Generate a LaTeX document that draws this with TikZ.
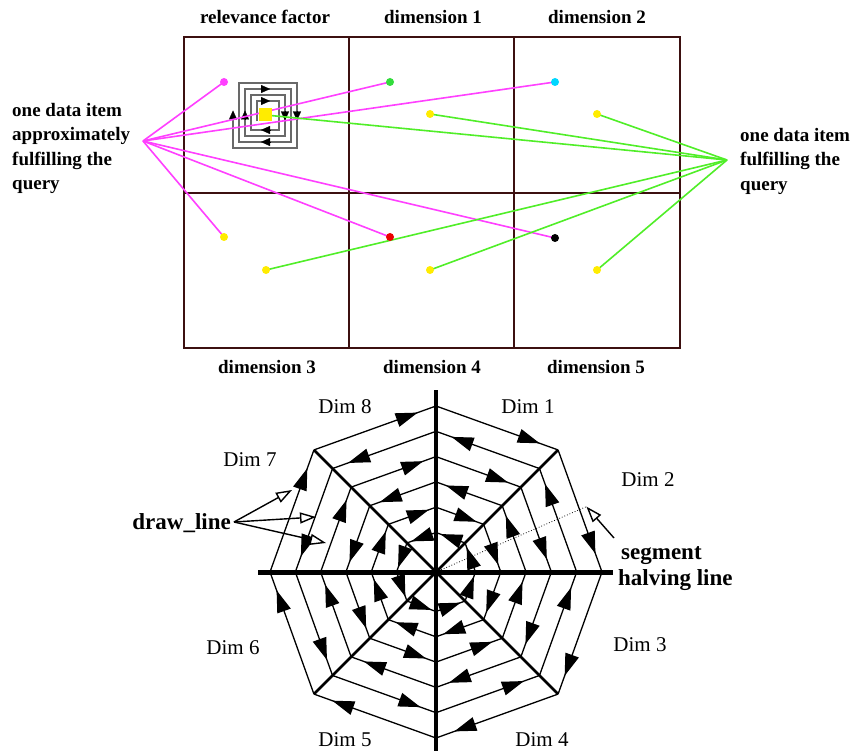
\documentclass[tikz,border=0pt]{standalone}
\usepackage{fontspec}
\setmainfont{Liberation Serif}
\usetikzlibrary{arrows.meta,decorations.markings}
\definecolor{magl}{RGB}{255,64,255}
\definecolor{grnl}{RGB}{80,238,40}
\definecolor{gridc}{RGB}{60,16,16}
\definecolor{dotyel}{RGB}{255,236,0}
\definecolor{dotgrn}{RGB}{50,220,60}
\definecolor{dotcyan}{RGB}{0,215,255}
\definecolor{dotred}{RGB}{235,0,0}
\definecolor{spirc}{RGB}{105,105,105}
\pgfdeclarelayer{back}
\pgfdeclarelayer{mid}
\pgfsetlayers{back,mid,main}
\begin{document}
\begin{tikzpicture}[x=1pt,y=-1pt,
  toplbl/.style={font=\fontsize{19}{23}\selectfont\bfseries, inner sep=0pt},
  dimlbl/.style={font=\fontsize{21}{25}\selectfont, inner sep=0pt},
  notelbl/.style={font=\fontsize{23}{27}\selectfont\bfseries, inner sep=0pt},
  dot/.style={circle, inner sep=0pt, minimum size=8pt},
  magline/.style={magl, line width=1.6pt},
  grnline/.style={grnl, line width=1.6pt},
  gridline/.style={gridc, line width=2pt},
  ring/.style={line width=1.3pt, postaction={decorate},
    decoration={markings, mark=at position 0.85 with {\arrow{Triangle[length=22pt,width=14pt]}}}},
  pointer/.style={line width=1.4pt, -{Triangle[fill=white,length=16pt,width=11pt]}},
  sparrow/.style={black, line width=0.1pt, -{Triangle[length=9pt,width=8pt]}},
  spiral/.style={spirc, line width=1.6pt}]
\useasboundingbox (0,0) rectangle (853,751);

% ---------------- upper figure ----------------
\begin{pgfonlayer}{back}
  \fill[white] (0,0) rectangle (853,751);
  \draw[gridline] (184,37) rectangle (680,348);
  \draw[gridline] (348.5,37) -- (348.5,348);
  \draw[gridline] (513.5,37) -- (513.5,348);
  \draw[gridline] (184,193) -- (680,193);
  \begin{scope}[shift={(265,115.5)}]
    \draw[spiral] (-8,6) -- (-8,-14.5) -- (14,-14.5) -- (14,14.5) -- (-14,14.5)
      -- (-14,-20.5) -- (20,-20.5) -- (20,20.5) -- (-20,20.5) -- (-20,-26.5)
      -- (26,-26.5) -- (26,26.5) -- (-26,26.5) -- (-26,-32.5) -- (32,-32.5)
      -- (32,32.5) -- (-32,32.5) -- (-32,-3);
    \draw[sparrow] (-4,-26.5) -- (5,-26.5);
    \draw[sparrow] (-4,-14.5) -- (5,-14.5);
    \draw[sparrow] (5,14.5) -- (-4,14.5);
    \draw[sparrow] (5,26.5) -- (-4,26.5);
    \draw[sparrow] (-32,4) -- (-32,-5);
    \draw[sparrow] (-20,4) -- (-20,-5);
    \draw[sparrow] (20,-4) -- (20,5);
    \draw[sparrow] (32,-4) -- (32,5);
  \end{scope}
\end{pgfonlayer}

\node[toplbl] (lrel) at (265,17) {relevance factor};
\node[toplbl] (ld1) at (433,17) {dimension 1};
\node[toplbl] (ld2) at (597,17) {dimension 2};
\node[toplbl] (ld3) at (267,367) {dimension 3};
\node[toplbl] (ld4) at (432,367) {dimension 4};
\node[toplbl] (ld5) at (596,367) {dimension 5};

\node[toplbl, anchor=base west] (approx) at (12,116.5)
  {\parbox[t]{200pt}{\fontsize{19}{24.5}\selectfont\bfseries one data item\\approximately\\fulfilling the\\query}};
\node[toplbl, anchor=base west] (exact) at (740,141.5)
  {\parbox[t]{120pt}{\fontsize{19}{24.5}\selectfont\bfseries one data item\\fulfilling the\\query}};

\coordinate (mL) at (143,141);
\coordinate (gR) at (727,160);

\node[dot, fill=magl] (dm) at (224,82) {};
\node[dot, fill=dotgrn] (dg) at (390,82) {};
\node[dot, fill=dotcyan] (dc) at (555,82) {};
\node[dot, fill=dotyel] (dy) at (224,237) {};
\node[dot, fill=dotred] (dr) at (390,237) {};
\node[dot, fill=black] (dk) at (555,238) {};
\node[dot, fill=dotyel] (y1) at (430,114) {};
\node[dot, fill=dotyel] (y2) at (597,114) {};
\node[dot, fill=dotyel] (y3) at (266,270) {};
\node[dot, fill=dotyel] (y4) at (430,270) {};
\node[dot, fill=dotyel] (y5) at (597,270) {};
\node[rectangle, fill=dotyel, inner sep=0pt, minimum size=13pt] (ysq) at (265.5,115) {};

\begin{pgfonlayer}{mid}
  \foreach \t in {dm,dg,dc,dy,dr,dk} {\draw[magline] (mL) -- (\t.center);}
  \foreach \t in {y1,y2,y3,y4,y5} {\draw[grnline] (gR) -- (\t.center);}
  \draw[grnline] (gR) -- (ysq.center);
\end{pgfonlayer}

% ---------------- lower figure ----------------
\begin{scope}[shift={(436,572)}]
  \foreach \k in {0,...,5}{
    \pgfmathsetmacro\ra{166-25.3*\k}
    \pgfmathsetmacro\rd{1.04*\ra}
    \foreach \j in {0,...,7}{
      \pgfmathsetmacro\aa{-90+45*\j}
      \pgfmathsetmacro\ab{-45+45*\j}
      \ifodd\j \def\ru{\rd}\def\rv{\ra}\else \def\ru{\ra}\def\rv{\rd}\fi
      \ifodd\k
        \draw[ring] (\ab:\rv) -- (\aa:\ru);
      \else
        \draw[ring] (\aa:\ru) -- (\ab:\rv);
      \fi
    }
  }
  \draw[line width=2.5pt] (-45:172.6) -- (135:172.6);
  \draw[line width=2.5pt] (-135:172.6) -- (45:172.6);
  \coordinate (cen) at (0,0);
  \coordinate (halfend) at (-23.5:164);
  \draw[dotted, line width=0.8pt] (cen) -- (halfend);
\end{scope}
\draw[line width=4.5pt] (436,390) -- (436,751);
\draw[line width=5pt] (258,572) -- (613,572);

\node[dimlbl] (dim8) at (345,407) {Dim 8};
\node[dimlbl] (dim1) at (528,407) {Dim 1};
\node[dimlbl] (dim7) at (250,460) {Dim 7};
\node[dimlbl] (dim2) at (648,480) {Dim 2};
\node[dimlbl] (dim6) at (233,648) {Dim 6};
\node[dimlbl] (dim3) at (640,645) {Dim 3};
\node[dimlbl] (dim5) at (345,740) {Dim 5};
\node[dimlbl] (dim4) at (542,740) {Dim 4};

\node[notelbl, anchor=base east] (dline) at (231,529) {draw\_line};
\coordinate (dls) at (234,522);
\coordinate (dt1) at (292,490);
\coordinate (dt2) at (316,517);
\coordinate (dt3) at (326,543);
\draw[pointer] (dls) -- (dt1);
\draw[pointer] (dls) -- (dt2);
\draw[pointer] (dls) -- (dt3);

\node[notelbl, anchor=base west] (seg) at (621,559) {segment};
\node[notelbl, anchor=base west] (halv) at (618,585) {halving line};
\coordinate (sgs) at (614,538);
\draw[pointer] (sgs) -- (halfend);
\end{tikzpicture}
\end{document}
